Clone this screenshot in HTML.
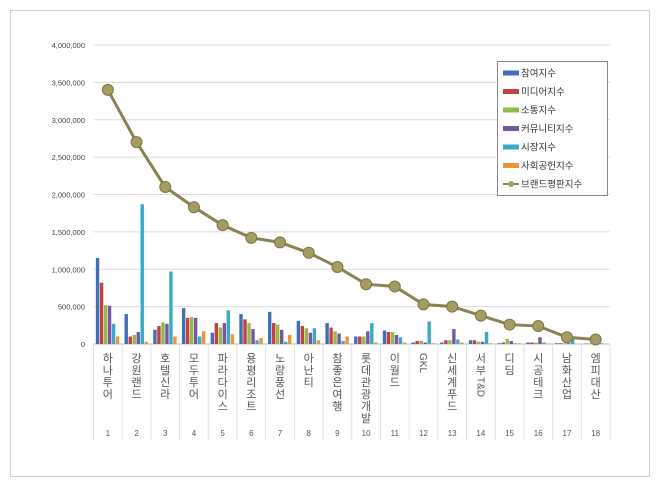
<!DOCTYPE html>
<html><head><meta charset="utf-8"><style>
body{margin:0;background:#fff;}
svg text{font-family:"Liberation Sans","Noto Sans CJK KR",sans-serif;}
</style></head><body>
<svg id="c" width="660" height="487" xmlns="http://www.w3.org/2000/svg">
<rect x="10.5" y="10.5" width="639" height="466" fill="#fff" stroke="#d0d0d0"/>
<g id="grid"></g><g id="bars"></g><g id="line"></g><g id="xaxis"></g>
<g>
<rect x="497.5" y="61.5" width="110" height="134" fill="#fff" stroke="#888"/>
</g>
<g id="leg"></g>
</svg>
<script>
const categories=["하나투어","강원랜드","호텔신라","모두투어","파라다이스","용평리조트","노랑풍선","아난티","참좋은여행","롯데관광개발","이월드","GKL","신세계푸드","서부T&D","디딤","시공테크","남화산업","엠피대산"];
const participation=[1150000,400000,190000,480000,150000,400000,430000,310000,280000,100000,180000,20000,20000,50000,10000,20000,10000,5000];
const media=[820000,100000,240000,350000,280000,330000,280000,240000,220000,100000,160000,40000,50000,50000,20000,20000,10000,5000];
const communication=[520000,120000,290000,360000,220000,280000,260000,210000,170000,100000,160000,40000,50000,30000,70000,20000,10000,5000];
const community=[510000,160000,270000,350000,280000,200000,190000,150000,140000,170000,120000,20000,200000,30000,40000,90000,10000,5000];
const market=[270000,1870000,970000,100000,450000,50000,30000,210000,40000,280000,90000,300000,60000,160000,10000,20000,70000,10000];
const social=[100000,30000,100000,170000,130000,80000,120000,50000,100000,20000,20000,10000,20000,10000,10000,5000,3000,2000];
const reputation=[3400000,2700000,2100000,1830000,1590000,1420000,1360000,1220000,1030000,800000,770000,530000,500000,380000,260000,240000,90000,60000];
const yTicks=[0,500000,1000000,1500000,2000000,2500000,3000000,3500000,4000000];
const seriesNames=["참여지수","미디어지수","소통지수","커뮤니티지수","시장지수","사회공헌지수"];
const seriesData=[participation,media,communication,community,market,social];
const colors=["#3f6fb5","#c0413d","#94b84a","#7a55a0","#3aaac4","#ee9339"];
const NS="http://www.w3.org/2000/svg";
const x0=93.5,x1=610,y0=344,y1=45,ymax=4000000;
const cw=(x1-x0)/categories.length;
const Y=v=>y0-(v/ymax)*(y0-y1);
const X=i=>x0+cw*(i+0.5);
function mk(t,a,p){const e=document.createElementNS(NS,t);for(const k in a)e.setAttribute(k,a[k]);document.getElementById(p).appendChild(e);return e;}
yTicks.forEach(v=>{
 const g=mk("line",{x1:x0,x2:x1,y1:Y(v),y2:Y(v),stroke:v?"#dcdcdc":"#bbb"},"grid");
 
 
 const t=mk("text",{x:85,y:Y(v)+3,"text-anchor":"end","font-size":"7.5",fill:"#444"},"grid");
 t.textContent=v.toLocaleString("en-US");
 
 
});
const bw=4;
seriesData.forEach((s,si)=>{s.forEach((v,i)=>{
 const bx=X(i)-3*bw+si*bw;
 const r=mk("rect",{x:bx,y:Y(v),width:bw-0.6,height:y0-Y(v),fill:colors[si]},"bars");
 
 
});});
const pts=reputation.map((v,i)=>X(i)+","+Y(v)).join(" ");
const pl=mk("polyline",{points:pts,fill:"none",stroke:"#8a8250","stroke-width":"3"},"line");


reputation.forEach((v,i)=>{
 const c=mk("circle",{cx:X(i),cy:Y(v),r:5.5,fill:"#a59c62",stroke:"#7c7444","stroke-width":"1"},"line");
 
 
});
for(let i=0;i<=categories.length;i++){
 const l=mk("line",{x1:x0+cw*i,x2:x0+cw*i,y1:y0,y2:440,stroke:"#e0e0e0"},"xaxis");
 
 
}
categories.forEach((c,i)=>{
 const runs=c.match(/[A-Za-z&]+|[^A-Za-z&]/g);
 let y=352;
 runs.forEach(r=>{
  let t;
  if(/^[A-Za-z&]+$/.test(r)){
   const w=r.length*6.5;
   t=mk("text",{x:0,y:0,"font-size":"10",fill:"#555",transform:"translate("+(X(i)-3.5)+","+(y+1)+") rotate(90)"},"xaxis");
   y+=w+2;
  } else {
   t=mk("text",{x:X(i),y:y+10,"text-anchor":"middle","font-size":"11",fill:"#555"},"xaxis");
   y+=12;
  }
  t.textContent=r;
  
  
 });
 const n=mk("text",{x:X(i),y:436,"text-anchor":"middle","font-size":"8",fill:"#555"},"xaxis");
 n.textContent=String(i+1);
 
 
});
const legNames=seriesNames.concat(["브랜드평판지수"]);
legNames.forEach((nm,i)=>{
 const y=73+i*18.5;
 if(i<6){const r=mk("rect",{x:503,y:y-2.5,width:16,height:5,fill:colors[i]},"leg");}
 else{mk("line",{x1:503,x2:519,y1:y,y2:y,stroke:"#8a8250","stroke-width":"2"},"leg");mk("circle",{cx:511,cy:y,r:3,fill:"#a59c62"},"leg");}
 const t=mk("text",{x:521,y:y+3.5,"font-size":"9.5",fill:"#333"},"leg");
 t.textContent=nm;
 
 
});
</script>
</body></html>
